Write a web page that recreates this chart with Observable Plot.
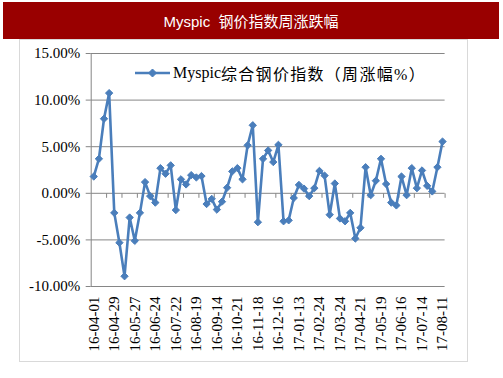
<!DOCTYPE html>
<html>
<head>
<meta charset="utf-8">
<script src="https://cdn.jsdelivr.net/npm/d3@7"></script>
<script src="https://cdn.jsdelivr.net/npm/@observablehq/plot@0.6"></script>
<style>
  html, body { margin: 0; padding: 0; background: #fff; }
  #wrap { position: relative; width: 503px; height: 378px; overflow: hidden; }
  #title {
    margin: 2px 0 0 3px; width: 496px; height: 37px; background: #990000; color: #fff;
    font: 15px "Liberation Sans", Arial, "Noto Sans CJK SC", sans-serif; text-align: center;
    line-height: 40px; white-space: pre;
  }
  #box { position: absolute; left: 19px; top: 39px; width: 447px; height: 321px; border: 1px solid #d9d9d9; pointer-events: none; }
  #legend { position: absolute; left: 134px; top: 62px; height: 22px; display: flex; align-items: center;
    font: 16px "Liberation Serif", "Times New Roman", "Noto Sans CJK SC", serif; color: #000; white-space: pre; }
  #legend svg { display: block; margin-right: 2px; }
  #legend .cjk { letter-spacing: 1.3px; }
</style>
</head>
<body>
<div id="wrap">
  <div id="title">Myspic  钢价指数周涨跌幅</div>
  <div id="chart"></div>
  <div id="box"></div>
  <div id="legend"><svg width="37" height="22"><line x1="1" y1="11" x2="36" y2="11" stroke="#4A7EBB" stroke-width="2.5"/><path d="M18.5,7 L22.5,11 L18.5,15 L14.5,11 Z" fill="#4A7EBB" stroke="#4A7EBB"/></svg><span>Myspic</span><span class="cjk">综合钢价指数（周涨幅%）</span></div>
</div>
<script>
// Tick labels (every 4th week)
const tickLabels = ["16-04-01","16-04-29","16-05-27","16-06-24","16-07-22","16-08-19","16-09-14","16-10-21","16-11-18","16-12-16","17-01-13","17-02-24","17-03-24","17-04-21","17-05-19","17-06-16","17-07-14","17-08-11"];
// Weekly change (%) of Myspic composite steel price index
const weeklyChange = [
  1.8, 3.7, 8.0, 10.75, -2.1, -5.3, -8.9, -2.6, -5.1, -2.1,
  1.2, -0.3, -1.0, 2.7, 2.1, 3.0, -1.8, 1.5, 0.95, 1.95,
  1.7, 1.85, -1.15, -0.6, -1.75, -0.9, 0.6, 2.35, 2.7, 1.5,
  5.15, 7.3, -3.1, 3.7, 4.6, 3.35, 5.2, -3.0, -2.9, -0.5,
  0.9, 0.5, -0.3, 0.55, 2.4, 1.9, -2.3, 1.05, -2.7, -3.0,
  -2.1, -4.85, -3.7, 2.8, -0.2, 1.35, 3.7, 1.0, -1.0, -1.3,
  1.8, -0.2, 2.7, 0.55, 2.45, 0.8, 0.2, 2.8, 5.55
];
const yTicks = [-10, -5, 0, 5, 10, 15];

const data = weeklyChange.map((v, i) => ({i, v}));
const n = weeklyChange.length;
const labelIdx = tickLabels.map((_, k) => k * 4);
const minorTicks = d3.range(3, n + 1, 3).map(b => b - 0.5);

const blue = "#4A7EBB";
const grid = "#868686";
const tickMark = {draw(ctx) { ctx.moveTo(0, 0); ctx.lineTo(0, 4.5); }};

const chart = Plot.plot({
  width: 503,
  height: 339,
  marginTop: 14,
  marginBottom: 92,
  marginLeft: 90.7,
  marginRight: 58.4,
  style: {background: "transparent", fontFamily: "'Liberation Serif', 'Times New Roman', serif", fontSize: "15px", color: "#000", overflow: "visible"},
  x: {type: "linear", domain: [-0.5, n - 0.5]},
  y: {domain: [-10, 15]},
  marks: [
    Plot.ruleY(yTicks, {stroke: grid, strokeWidth: 1}),
    Plot.ruleX([-0.5], {stroke: grid, strokeWidth: 1}),
    Plot.dot(minorTicks, {x: d => d, y: () => 0, symbol: tickMark, r: 3, stroke: grid, fill: "none", strokeWidth: 1}),
    Plot.axisY({ticks: yTicks, tickSize: 5, tickPadding: 6, stroke: grid, fill: "#000", fontSize: 15,
      tickFormat: d => d.toFixed(2) + "%", label: null}),
    Plot.axisX({ticks: labelIdx, tickSize: 0, tickPadding: 10, tickRotate: -90, fill: "#000", fontSize: 15,
      tickFormat: i => tickLabels[i / 4], label: null}),
    Plot.line(data, {x: "i", y: "v", stroke: blue, strokeWidth: 2.6, strokeLinejoin: "round"}),
    Plot.dot(data, {x: "i", y: "v", symbol: "diamond2", r: 3.3, fill: blue, stroke: blue, strokeWidth: 1})
  ]
});
document.getElementById("chart").appendChild(chart);
</script>
</body>
</html>
